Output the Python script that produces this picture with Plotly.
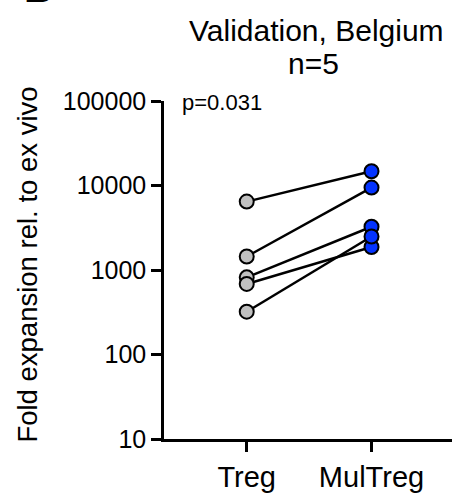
import plotly.graph_objects as go

categories = ["Treg", "MulTreg"]
treg_values = [6450, 1445, 818, 684, 321]
multreg_values = [14750, 9460, 3250, 1870, 2490]
y_tick_vals = [10, 100, 1000, 10000, 100000]
y_tick_text = ["10", "100", "1000", "10000", "100000"]
title_line1 = "Validation, Belgium"
title_line2 = "n=5"
p_text = "p=0.031"
y_title = "Fold expansion rel. to ex vivo"

FONT = "Arial, Liberation Sans, Helvetica, sans-serif"
L, T, W, H = 164, 101, 288, 345


def px(xp):
    return (xp - L) / W


def py(yp):
    return (T + H - yp) / H


fig = go.Figure()

for a, b in zip(treg_values, multreg_values):
    fig.add_trace(go.Scatter(x=[0, 1], y=[a, b], mode="lines",
                             line=dict(color="black", width=2.5),
                             showlegend=False, hoverinfo="skip"))

fig.add_trace(go.Scatter(x=[0] * len(treg_values), y=treg_values, mode="markers",
                         marker=dict(size=14, color="#C0C0C0",
                                     line=dict(color="black", width=2)),
                         showlegend=False))
fig.add_trace(go.Scatter(x=[1] * len(multreg_values), y=multreg_values, mode="markers",
                         marker=dict(size=14, color="#0433FF",
                                     line=dict(color="black", width=2)),
                         showlegend=False))

fig.update_layout(
    width=454, height=495,
    margin=dict(l=L, r=454 - L - W, t=T, b=495 - T - H),
    paper_bgcolor="white", plot_bgcolor="white",
    font=dict(family=FONT, color="black"),
    xaxis=dict(range=[-0.663, 1.645], tickvals=[0, 1], ticktext=categories,
               showline=True, linecolor="black", linewidth=2.5,
               ticks="outside", ticklen=10, tickwidth=2.5, tickcolor="black",
               showgrid=False, zeroline=False,
               tickfont=dict(size=29, family=FONT)),
    yaxis=dict(type="log", range=[1, 5], tickvals=y_tick_vals, ticktext=y_tick_text,
               showline=True, linecolor="black", linewidth=2.5,
               ticks="outside", ticklen=10, tickwidth=2.5, tickcolor="black",
               showgrid=False, zeroline=False,
               tickfont=dict(size=25, family=FONT)),
)

fig.add_annotation(text=y_title, xref="paper", yref="paper",
                   x=px(28), y=py(268), xanchor="center", yanchor="middle",
                   textangle=-90, showarrow=False, font=dict(size=27.5, family=FONT))
fig.add_annotation(text=title_line1, xref="paper", yref="paper",
                   x=px(316), y=py(29), xanchor="center", yanchor="middle",
                   showarrow=False, font=dict(size=30, family=FONT))
fig.add_annotation(text=title_line2, xref="paper", yref="paper",
                   x=px(313), y=py(63), xanchor="center", yanchor="middle",
                   showarrow=False, font=dict(size=30, family=FONT))
fig.add_annotation(text=p_text, xref="paper", yref="paper",
                   x=px(180), y=py(103), xanchor="left", yanchor="middle",
                   showarrow=False, font=dict(size=22, family=FONT))
fig.add_annotation(text="<b>B</b>", xref="paper", yref="paper",
                   x=px(22), y=py(10), xanchor="left", yanchor="bottom",
                   showarrow=False, font=dict(size=40, family=FONT))

fig.write_html("out.html")
